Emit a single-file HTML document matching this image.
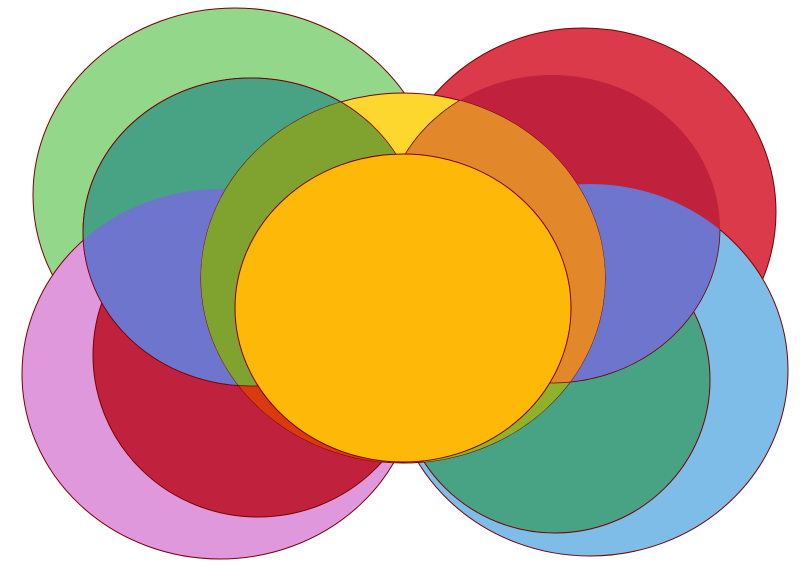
<!DOCTYPE html>
<html><head><meta charset="utf-8"><style>html,body{margin:0;padding:0;background:#fff}svg{display:block}</style></head>
<body>
<svg width="800" height="566" viewBox="0 0 800 566" xmlns="http://www.w3.org/2000/svg">
<defs>
<clipPath id="pink"><ellipse cx="220" cy="374" rx="198" ry="185"/></clipPath>
<clipPath id="blue"><ellipse cx="590" cy="370" rx="198" ry="186"/></clipPath>
<clipPath id="yel"><ellipse cx="403" cy="278" rx="202" ry="185"/></clipPath>
</defs>
<g stroke="#7a0000" stroke-width="1">
<ellipse cx="235" cy="195" rx="202" ry="187" fill="#92d78a"/>
<ellipse cx="583" cy="212" rx="193" ry="184" fill="#da3a4a"/>
<ellipse cx="220" cy="374" rx="198" ry="185" fill="#e098dd"/>
<ellipse cx="590" cy="370" rx="198" ry="186" fill="#7dbde8"/>
<ellipse cx="258" cy="355" rx="165" ry="162" fill="#c0223d"/>
<ellipse cx="555" cy="380" rx="155" ry="153" fill="#47a383"/>
<ellipse cx="251" cy="232" rx="168" ry="154" fill="#47a383"/>
<ellipse cx="552" cy="229" rx="168" ry="154" fill="#c0223d" stroke="none"/>
</g>
<ellipse cx="251" cy="232" rx="168" ry="154" fill="#6e75cc" clip-path="url(#pink)"/>
<ellipse cx="552" cy="229" rx="168" ry="154" fill="#6e75cc" clip-path="url(#blue)"/>
<ellipse cx="552" cy="229" rx="168" ry="154" fill="none" stroke="#7a0000" stroke-width="0.8" clip-path="url(#blue)"/>
<ellipse cx="403" cy="278" rx="202" ry="185" fill="#fdd72e" stroke="#7a0000"/>
<g clip-path="url(#yel)">
<ellipse cx="258" cy="355" rx="165" ry="162" fill="#d93a10"/>
<ellipse cx="555" cy="380" rx="155" ry="153" fill="#8fb22a"/>
<ellipse cx="251" cy="232" rx="168" ry="154" fill="#7fa32e"/>
<ellipse cx="552" cy="229" rx="168" ry="154" fill="#e2872a"/>
<g fill="none" stroke="#7a0000" stroke-width="0.8">
<ellipse cx="552" cy="229" rx="168" ry="154"/>
</g>
</g>
<ellipse cx="251" cy="232" rx="168" ry="154" fill="none" stroke="#7a0000" stroke-width="0.8"/>
<ellipse cx="403" cy="308" rx="168" ry="154" fill="#fdb808" stroke="#7a0000"/>
</svg>
</body></html>
